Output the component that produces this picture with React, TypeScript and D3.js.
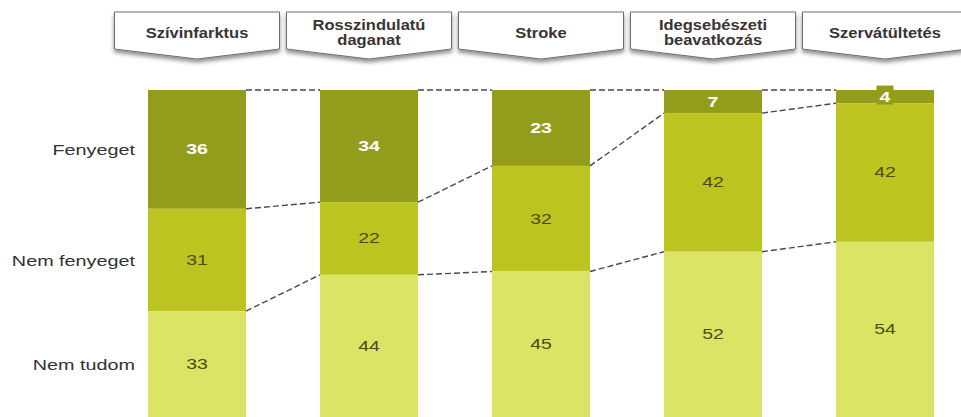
import React from "react";
import * as d3 from "d3";

const categories = [
  ["Szívinfarktus"],
  ["Rosszindulatú", "daganat"],
  ["Stroke"],
  ["Idegsebészeti", "beavatkozás"],
  ["Szervátültetés"],
];
const seriesNames = ["Fenyeget", "Nem fenyeget", "Nem tudom"];
const fenyeget = [36, 34, 23, 7, 4];
const nemFenyeget = [31, 22, 32, 42, 42];
const nemTudom = [33, 44, 45, 52, 54];

const colors = ["#949c1c", "#bcc520", "#dce466"];
const textColors = ["#ffffff", "#4d4a14", "#4d4a14"];

function SText(props: { x: number; y: number; sx: number; anchor: string; size: number; weight?: string; fill: string; children: any }) {
  return (
    <g transform={`translate(${props.x},${props.y}) scale(${props.sx},1)`}>
      <text x={0} y={0} textAnchor={props.anchor as any} dominantBaseline="middle" fontSize={props.size}
        fontWeight={props.weight || "normal"} fill={props.fill}>{props.children}</text>
    </g>
  );
}

export default function App() {
  const W = 961, H = 417;
  const top = 90, bottom = 420;
  const xc = d3.scalePoint<number>().domain(d3.range(5)).range([197, 885]);
  const y = d3.scaleLinear().domain([0, 100]).range([top, bottom]);
  const bw = 98;
  const series = [fenyeget, nemFenyeget, nemTudom];
  const data = d3.range(5).map((i) => {
    let cum = 0;
    return series.map((s, k) => {
      const y0 = cum;
      cum += s[i];
      return { k, v: s[i], y0, y1: cum };
    });
  });
  const cx = (i: number) => xc(i) as number;
  const left = (i: number) => cx(i) - bw / 2;

  return (
    <svg width={W} height={H} style={{ position: "absolute", left: 0, top: 0, fontFamily: "Liberation Sans, Arial, sans-serif" }}>
      <defs>
        <filter id="sh" x="-10%" y="-20%" width="120%" height="160%">
          <feDropShadow dx="0" dy="3" stdDeviation="2" floodColor="#000" floodOpacity="0.45" />
        </filter>
      </defs>
      {/* header callouts */}
      {categories.map((lines, i) => {
        const c = cx(i);
        const hw = 82.5;
        const t = 12, sb = 49, tip = 59;
        const path = `M${c - hw},${t} L${c + hw},${t} L${c + hw},${sb} L${c},${tip} L${c - hw},${sb} Z`;
        return (
          <g key={i}>
            <path d={path} fill="#fff" stroke="#6e6e6e" strokeWidth={1} filter="url(#sh)" />
            {lines.map((l, j) => (
              <SText key={j} x={c} y={lines.length === 1 ? 34 : 26 + j * 15} sx={1.18} anchor="middle"
                size={14} weight="bold" fill="#3b3333">{l}</SText>
            ))}
          </g>
        );
      })}
      {/* bars */}
      {data.map((segs, i) => (
        <g key={i}>
          {segs.map((s) => (
            <rect key={s.k} x={left(i)} y={y(s.y0)} width={bw} height={y(s.y1) - y(s.y0)} fill={colors[s.k]} />
          ))}
        </g>
      ))}
      {/* dashed connectors */}
      {d3.range(4).map((i) =>
        [0, 1, 2].map((b) => {
          const yA = b === 0 ? y(0) : y(data[i][b - 1].y1);
          const yB = b === 0 ? y(0) : y(data[i + 1][b - 1].y1);
          return (
            <line key={`${i}-${b}`} x1={left(i) + bw} y1={yA} x2={left(i + 1)} y2={yB}
              stroke="#4a4a4a" strokeWidth={1.4} strokeDasharray="6,3" />
          );
        })
      )}
      {/* value labels */}
      {data.map((segs, i) =>
        segs.map((s) => {
          const yc = (y(s.y0) + Math.min(y(s.y1), H)) / 2 + 1;
          const small = s.v < 6;
          return (
            <g key={`${i}-${s.k}`}>
              {small && <rect x={cx(i) - 8.5} y={yc - 12} width={17} height={19} fill={colors[0]} />}
              <SText x={cx(i)} y={yc} sx={1.3} anchor="middle" size={15}
                weight={s.k === 0 ? "bold" : "normal"} fill={textColors[s.k]}>{s.v}</SText>
            </g>
          );
        })
      )}
      {/* row labels */}
      {data[0].map((s) => (
        <SText key={s.k} x={135} y={(y(s.y0) + Math.min(y(s.y1), H)) / 2 + 2} sx={1.32} anchor="end"
          size={15} fill="#333">{seriesNames[s.k]}</SText>
      ))}
    </svg>
  );
}
